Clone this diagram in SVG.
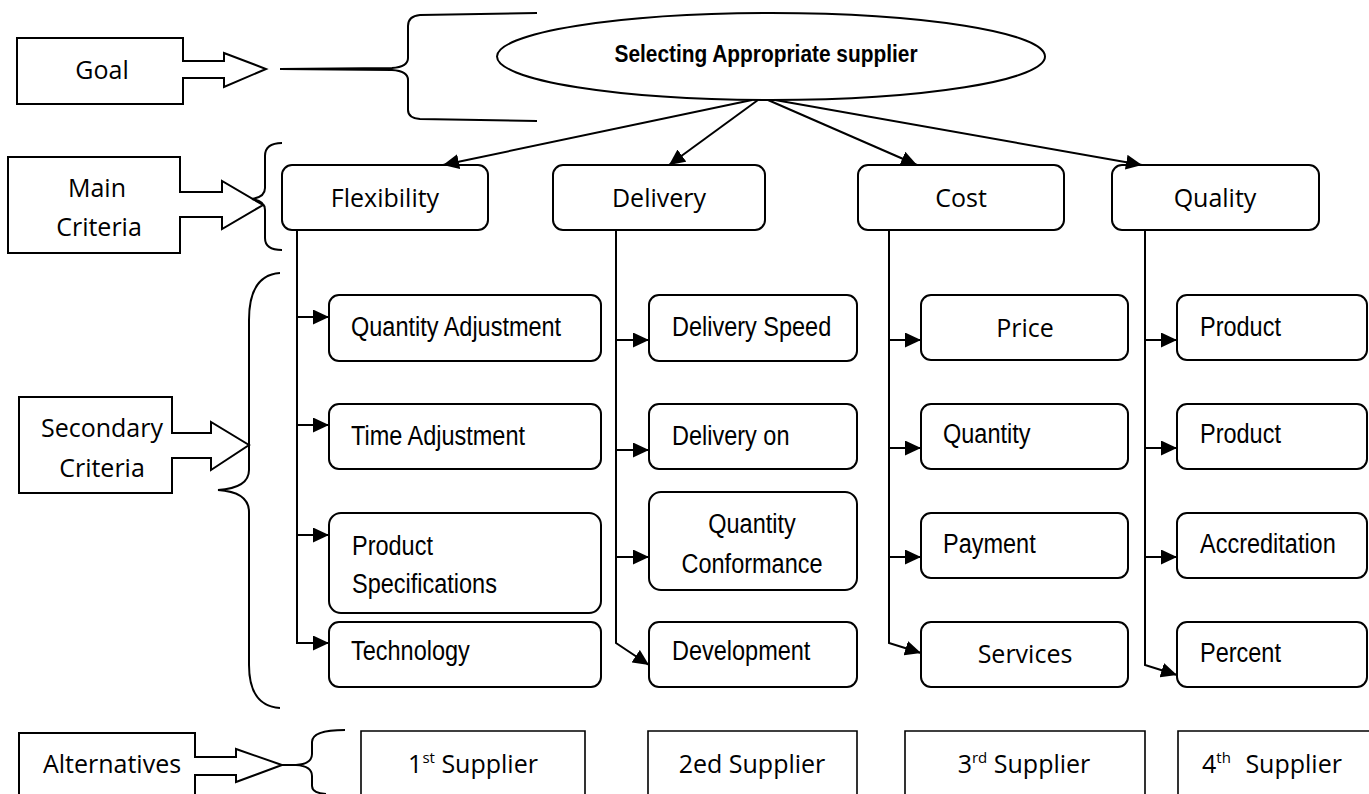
<svg xmlns="http://www.w3.org/2000/svg" width="1369" height="794" viewBox="0 0 1369 794">
  <style>
    .bg { fill: #ffffff; }
    .lbl { fill: #ffffff; stroke: #000; stroke-width: 2; stroke-linejoin: miter; }
    .node { fill: #ffffff; stroke: #000; stroke-width: 2; }
    .alt { fill: none; stroke: #000; stroke-width: 1.6; }
    .brace { fill: none; stroke: #000; stroke-width: 2; }
    .wire { fill: none; stroke: #000; stroke-width: 2; }
    .cal { font-family: "Open Sans", "Liberation Sans", sans-serif; font-size: 25px; fill: #000; }
    .ar { font-family: "Liberation Sans", Arial, sans-serif; font-size: 27px; fill: #000; }
    .title { font-family: "Liberation Sans", Arial, sans-serif; font-size: 24px; font-weight: bold; fill: #000; }
    .mid { text-anchor: middle; }
    .sup { font-size: 15px; }
  </style>
  <defs>
    <marker id="head" markerUnits="userSpaceOnUse" markerWidth="16" markerHeight="15" refX="16" refY="7.5" orient="auto">
      <path d="M0,0 L16,7.5 L0,15 Z" fill="#000"/>
    </marker>
  </defs>

  <rect class="bg" x="0" y="0" width="1369" height="794"/>

  <!-- level labels with their hollow arrows -->
  <g id="label-goal">
    <polygon class="lbl" points="17,38 183,38 183,61 224,61 224,53 266,69 224,87 224,78 183,78 183,104 17,104"/>
    <text class="cal mid" x="102" y="79">Goal</text>
  </g>
  <g id="label-main">
    <polygon class="lbl" points="8,157 180,157 180,192 222,192 222,181 263,205 222,229 222,217 180,217 180,253 8,253"/>
    <text class="cal mid" x="97" y="197">Main</text>
    <text class="cal mid" x="99" y="236">Criteria</text>
  </g>
  <g id="label-secondary">
    <polygon class="lbl" points="19,397 172,397 172,433 211,433 211,422 249,445 211,470 211,458 172,458 172,493 19,493"/>
    <text class="cal mid" x="102" y="437">Secondary</text>
    <text class="cal mid" x="102" y="477">Criteria</text>
  </g>
  <g id="label-alternatives">
    <polygon class="lbl" points="19,733 195,733 195,757 236,757 236,749 282,765 236,782 236,775 195,775 195,800 19,800"/>
    <text class="cal mid" x="112" y="773">Alternatives</text>
  </g>

  <!-- curly braces grouping each level -->
  <g id="braces">
    <path class="brace" d="M537,13 L420,15 Q408,16 408,26 L408,58 Q408,67 392,68 L280,69"/>
    <path class="brace" d="M280,69 L392,70 Q408,71 408,80 L408,110 Q408,118 420,119 L537,121"/>
    <path class="brace" d="M282,143 Q265,143 265,156 L265,188 Q265,197 252,199 Q265,201 265,210 L265,238 Q265,250 282,250"/>
    <path class="brace" d="M280,273 Q249,275 249,320 L249,470 Q249,488 218,490 Q249,492 249,512 L249,665 Q249,706 280,708"/>
    <path class="brace" d="M345,730 Q312,730 312,742 L312,754 Q312,764 296,765 L282,765 L296,765 Q312,766 312,776 L312,786 Q312,793 326,794"/>
  </g>

  <!-- goal -->
  <g id="goal">
    <ellipse class="node" cx="771" cy="56.5" rx="274" ry="43.5" stroke-width="1.6"/>
    <text class="title mid" transform="translate(766,62) scale(0.87,1)">Selecting Appropriate supplier</text>
  </g>

  <!-- main criteria -->
  <g id="flexibility">
    <rect class="node" x="282" y="165" width="206" height="65" rx="10"/>
    <text class="cal mid" x="385" y="207">Flexibility</text>
  </g>
  <g id="delivery">
    <rect class="node" x="553" y="165" width="212" height="65" rx="10"/>
    <text class="cal mid" x="659" y="207">Delivery</text>
  </g>
  <g id="cost">
    <rect class="node" x="858" y="165" width="206" height="65" rx="10"/>
    <text class="cal mid" x="961" y="207">Cost</text>
  </g>
  <g id="quality">
    <rect class="node" x="1112" y="165" width="207" height="65" rx="10"/>
    <text class="cal mid" x="1215" y="207">Quality</text>
  </g>

  <!-- secondary criteria: flexibility -->
  <g id="quantity-adjustment">
    <rect class="node" x="329" y="295" width="272" height="66" rx="10"/>
    <text class="ar" transform="translate(351,336) scale(0.87,1)">Quantity Adjustment</text>
  </g>
  <g id="time-adjustment">
    <rect class="node" x="329" y="404" width="272" height="65" rx="10"/>
    <text class="ar" transform="translate(351,445) scale(0.87,1)">Time Adjustment</text>
  </g>
  <g id="product-specifications">
    <rect class="node" x="329" y="513" width="272" height="100" rx="12"/>
    <text class="ar" transform="translate(352,555) scale(0.87,1)">Product</text>
    <text class="ar" transform="translate(352,593) scale(0.87,1)">Specifications</text>
  </g>
  <g id="technology">
    <rect class="node" x="329" y="622" width="272" height="65" rx="10"/>
    <text class="ar" transform="translate(351,660) scale(0.87,1)">Technology</text>
  </g>

  <!-- secondary criteria: delivery -->
  <g id="delivery-speed">
    <rect class="node" x="649" y="295" width="208" height="66" rx="10"/>
    <text class="ar" transform="translate(672,336) scale(0.87,1)">Delivery Speed</text>
  </g>
  <g id="delivery-on">
    <rect class="node" x="649" y="404" width="208" height="65" rx="10"/>
    <text class="ar" transform="translate(672,445) scale(0.87,1)">Delivery on</text>
  </g>
  <g id="quantity-conformance">
    <rect class="node" x="649" y="492" width="208" height="98" rx="12"/>
    <text class="ar mid" transform="translate(752,533) scale(0.87,1)">Quantity</text>
    <text class="ar mid" transform="translate(752,573) scale(0.87,1)">Conformance</text>
  </g>
  <g id="development">
    <rect class="node" x="649" y="622" width="208" height="65" rx="10"/>
    <text class="ar" transform="translate(672,660) scale(0.87,1)">Development</text>
  </g>

  <!-- secondary criteria: cost -->
  <g id="price">
    <rect class="node" x="921" y="295" width="207" height="65" rx="10"/>
    <text class="cal mid" x="1025" y="337">Price</text>
  </g>
  <g id="quantity">
    <rect class="node" x="921" y="404" width="207" height="65" rx="10"/>
    <text class="ar" transform="translate(943,443) scale(0.87,1)">Quantity</text>
  </g>
  <g id="payment">
    <rect class="node" x="921" y="513" width="207" height="65" rx="10"/>
    <text class="ar" transform="translate(943,553) scale(0.87,1)">Payment</text>
  </g>
  <g id="services">
    <rect class="node" x="921" y="622" width="207" height="65" rx="10"/>
    <text class="cal mid" x="1025" y="663">Services</text>
  </g>

  <!-- secondary criteria: quality -->
  <g id="product-1">
    <rect class="node" x="1177" y="295" width="190" height="65" rx="10"/>
    <text class="ar" transform="translate(1200,336) scale(0.87,1)">Product</text>
  </g>
  <g id="product-2">
    <rect class="node" x="1177" y="404" width="190" height="65" rx="10"/>
    <text class="ar" transform="translate(1200,443) scale(0.87,1)">Product</text>
  </g>
  <g id="accreditation">
    <rect class="node" x="1177" y="513" width="190" height="65" rx="10"/>
    <text class="ar" transform="translate(1200,553) scale(0.87,1)">Accreditation</text>
  </g>
  <g id="percent">
    <rect class="node" x="1177" y="622" width="190" height="65" rx="10"/>
    <text class="ar" transform="translate(1200,662) scale(0.87,1)">Percent</text>
  </g>

  <!-- alternatives -->
  <g id="supplier-1">
    <path class="alt" d="M361,800 V731 H585 V800"/>
    <text class="cal mid" x="473" y="773">1<tspan class="sup" dy="-10">st</tspan><tspan dy="10"> Supplier</tspan></text>
  </g>
  <g id="supplier-2">
    <path class="alt" d="M648,800 V731 H857 V800"/>
    <text class="cal mid" x="752" y="773">2ed Supplier</text>
  </g>
  <g id="supplier-3">
    <path class="alt" d="M905,800 V731 H1145 V800"/>
    <text class="cal mid" x="1024" y="773">3<tspan class="sup" dy="-10">rd</tspan><tspan dy="10"> Supplier</tspan></text>
  </g>
  <g id="supplier-4">
    <path class="alt" d="M1178,800 V731 H1369"/>
    <text class="cal mid" x="1272" y="773">4<tspan class="sup" dy="-10">th</tspan><tspan dy="10" dx="8"> Supplier</tspan></text>
  </g>

  <!-- connectors -->
  <g id="connectors">
    <line class="wire" x1="752" y1="100" x2="443" y2="165" marker-end="url(#head)"/>
    <line class="wire" x1="758" y1="100" x2="669" y2="165" marker-end="url(#head)"/>
    <line class="wire" x1="768" y1="100" x2="917" y2="165" marker-end="url(#head)"/>
    <line class="wire" x1="775" y1="100" x2="1142" y2="165" marker-end="url(#head)"/>

    <path class="wire" d="M297,230 V643 H329" marker-end="url(#head)"/>
    <line class="wire" x1="297" y1="317" x2="329" y2="317" marker-end="url(#head)"/>
    <line class="wire" x1="297" y1="425" x2="329" y2="425" marker-end="url(#head)"/>
    <line class="wire" x1="297" y1="535" x2="329" y2="535" marker-end="url(#head)"/>

    <path class="wire" d="M616,230 V643 L649,665" marker-end="url(#head)"/>
    <line class="wire" x1="616" y1="340" x2="649" y2="340" marker-end="url(#head)"/>
    <line class="wire" x1="616" y1="450" x2="649" y2="450" marker-end="url(#head)"/>
    <line class="wire" x1="616" y1="557" x2="649" y2="557" marker-end="url(#head)"/>

    <path class="wire" d="M889,230 V643 L921,653" marker-end="url(#head)"/>
    <line class="wire" x1="889" y1="340" x2="921" y2="340" marker-end="url(#head)"/>
    <line class="wire" x1="889" y1="448" x2="921" y2="448" marker-end="url(#head)"/>
    <line class="wire" x1="889" y1="557" x2="921" y2="557" marker-end="url(#head)"/>

    <path class="wire" d="M1145,230 V665 L1177,675" marker-end="url(#head)"/>
    <line class="wire" x1="1145" y1="340" x2="1177" y2="340" marker-end="url(#head)"/>
    <line class="wire" x1="1145" y1="448" x2="1177" y2="448" marker-end="url(#head)"/>
    <line class="wire" x1="1145" y1="557" x2="1177" y2="557" marker-end="url(#head)"/>
  </g>
</svg>
